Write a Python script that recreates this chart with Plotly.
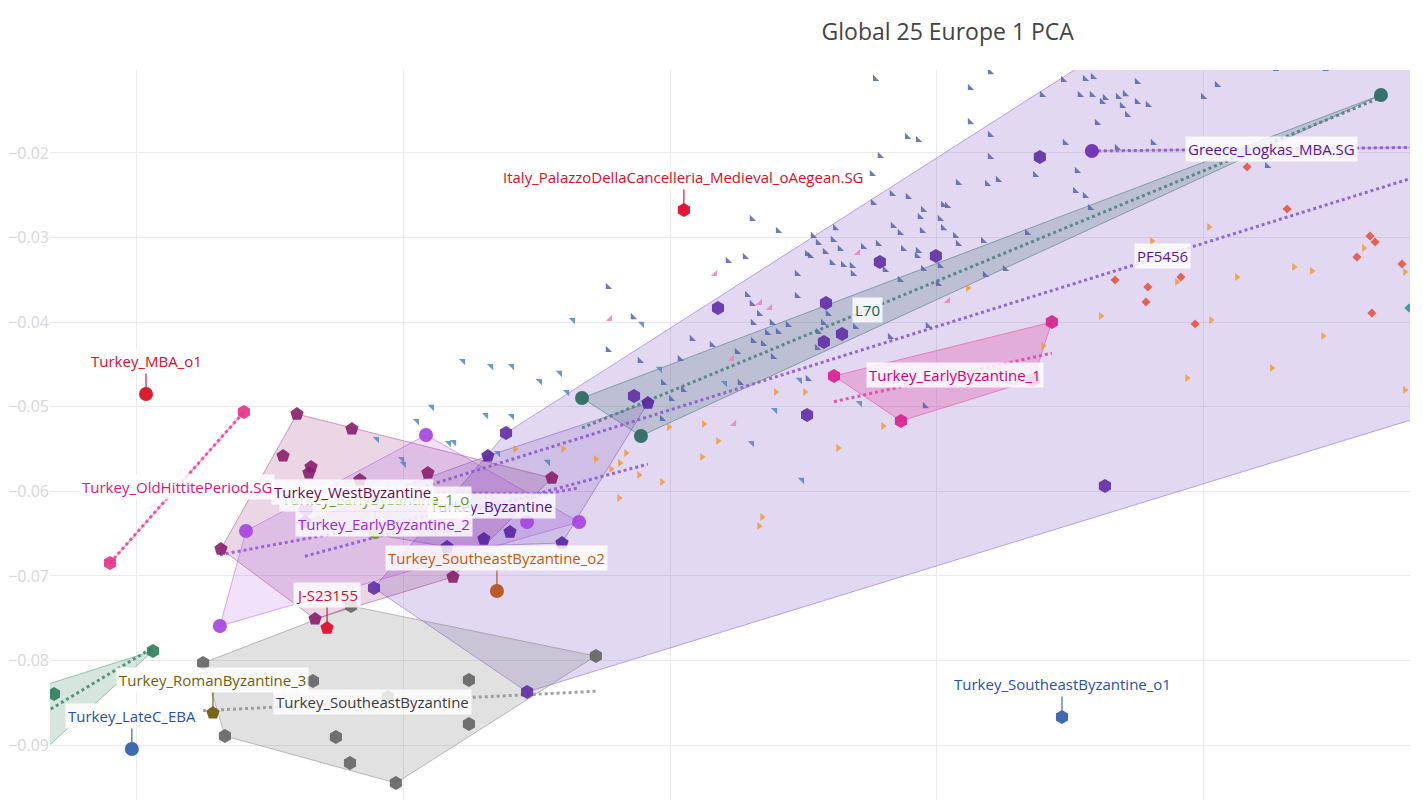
import numpy as np
import plotly.graph_objects as go

# ---------------- background reference samples ----------------
bg_blue_x = [0.12768,0.13199,0.13124,0.13124,0.12888,0.12929,0.12786,0.13199,0.12756,0.13079,
             0.13188,0.13229,0.12831,0.12891,0.1276,0.12948,0.13023,0.13038,0.12936,0.13011,
             0.12618,0.12835,0.12861,0.12944,0.13023,0.12404,0.12306,0.12535,0.13068,0.13079,
             0.13173,0.12554,0.1261,0.12779,0.12723,0.12513,0.12524,0.1258,0.12636,0.12873,
             0.12929,0.12925,0.12606,0.12648,0.12681,0.12685,0.12805,0.12948,0.13011,0.12861,
             0.13004,0.1318,0.12475,0.12216,0.1228,0.11766,0.12475,0.12288,0.12306,
             0.13473,0.13555,0.13585,0.1375,0.1405,0.13394,0.13536,0.13581,0.1363,0.13619,
             0.13679,0.13705,0.1375,0.13791,0.13694,0.13713,0.13998,0.136,0.1348,0.13675,
             0.1381,0.13199,0.13525,0.13368,0.13518,0.13555,0.13574,0.13338,0.13255,0.14238,
             0.14268,0.14455,
             0.12333,0.1231,0.12381,0.12441,0.12363,0.12404,0.12573,0.12591,0.1231,0.12348,
             0.1225,0.12385,0.1255,0.12554,0.12693,0.12824,0.12966,0.12081,0.12156,0.12036,
             0.11886,0.11766,0.11973,0.12003,0.12048,0.12261,0.12516,0.12955,0.11969,0.1186]
bg_blue_y = [-0.01125,-0.01043,-0.01232,-0.01634,-0.01811,-0.01846,-0.02035,-0.02047,-0.02248,-0.02355,
             -0.02366,-0.02319,-0.02485,-0.0252,-0.02591,-0.02674,-0.02615,-0.02626,-0.02756,-0.0278,
             -0.02887,-0.02863,-0.02946,-0.02922,-0.02887,-0.02922,-0.0278,-0.02981,-0.02981,-0.03076,
             -0.0304,-0.03064,-0.03028,-0.03076,-0.03111,-0.03194,-0.03217,-0.0317,-0.03135,-0.03135,
             -0.03158,-0.03217,-0.033,-0.03324,-0.03336,-0.0343,-0.03383,-0.03371,-0.03336,-0.03501,
             -0.03548,-0.03442,-0.0343,-0.03277,-0.03229,-0.03584,-0.0369,-0.03678,-0.03785,
             -0.01137,-0.01125,-0.01102,-0.01161,-0.01196,-0.01314,-0.01314,-0.01314,-0.0135,-0.01397,
             -0.01338,-0.01303,-0.01397,-0.01433,-0.01444,-0.01551,-0.01338,-0.01645,-0.01882,-0.01941,
             -0.01882,-0.01787,-0.02213,-0.0226,-0.02449,-0.02508,-0.0265,-0.02946,-0.03371,-0.02154,
             -0.01007,-0.01007,
             -0.03903,-0.04009,-0.04009,-0.04033,-0.04128,-0.04116,-0.04009,-0.03903,-0.04222,-0.04258,
             -0.04352,-0.04411,-0.04305,-0.04116,-0.04057,-0.04175,-0.04045,-0.04199,-0.04269,-0.04435,
             -0.04459,-0.04329,-0.04719,-0.04908,-0.04801,-0.04719,-0.04671,-0.04991,-0.05144,-0.03939]

bg_lightblue_x = [0.11635,0.11894,0.11961,0.12205,0.12486,0.12393,0.12306,0.12494,0.12711,0.11613,
                  0.11586,0.11106,0.1105,0.11309,0.11406,0.109,0.1117,0.11189,0.10994,0.11001,
                  0.11354,0.11541,0.11223,0.11328,0.11406,0.11511]
bg_lightblue_y = [-0.03974,-0.04021,-0.04553,-0.04719,-0.04683,-0.05038,-0.05428,-0.05865,-0.04955,-0.04825,
                  -0.046,-0.05002,-0.05168,-0.05097,-0.05109,-0.05381,-0.05428,-0.05416,-0.05617,-0.05676,
                  -0.05546,-0.05652,-0.04459,-0.04518,-0.04518,-0.04695]

bg_pink_x = [0.11774,0.12168,0.12336,0.12374,0.12704,0.13041,0.12231,0.12239]
bg_pink_y = [-0.03962,-0.0343,-0.03773,-0.03832,-0.03182,-0.03749,-0.04435,-0.05203]

bg_orange_x = [0.11418,0.11598,0.11721,0.11834,0.11811,0.11778,0.11883,0.11969,0.11808,0.12126,
               0.12179,0.12119,0.11995,0.12396,0.12505,0.12629,0.12798,0.12344,0.12333,0.13116,
               0.13398,0.13615,0.13938,0.14028,0.13806,0.139,0.1402,0.14125,0.14256,0.14339,
               0.14406,0.14448,0.14601,0.14755,0.14755]
bg_orange_y = [-0.05499,-0.05499,-0.05617,-0.05546,-0.05664,-0.05735,-0.05806,-0.05889,-0.06078,-0.05203,
               -0.05404,-0.05593,-0.05239,-0.04825,-0.04825,-0.05487,-0.05227,-0.06303,-0.06409,-0.03596,
               -0.04281,-0.03927,-0.0466,-0.03974,-0.0304,-0.03525,-0.02875,-0.03466,-0.04541,-0.03348,
               -0.03395,-0.04163,-0.03123,-0.03407,-0.04801]

bg_red_x = [0.14163,0.14313,0.14643,0.14575,0.14744,0.13668,0.13791,0.13915,0.13784,0.14631,0.13968,0.14624]
bg_red_y = [-0.02165,-0.02662,-0.03052,-0.03229,-0.03312,-0.03501,-0.03584,-0.03466,-0.03761,-0.03891,-0.04021,-0.02981]

bg_teal_x = [0.1477]
bg_teal_y = [-0.03832]

# ---------------- highlighted populations ----------------
pf5456_x = [0.13386,0.12786,0.12996,0.12179,0.12584,0.12576,0.12644,0.12513,0.11864,0.1363,
            0.11463,0.11384,0.10889,0.14361,0.15861,0.15486,0.15674,0.15861]
pf5456_y = [-0.02047,-0.03288,-0.03217,-0.03832,-0.03773,-0.04234,-0.04139,-0.05097,-0.04872,-0.05936,
            -0.08371,-0.0531,-0.07142,0.00683,-0.04104,-0.01574,-0.01385,-0.01208]

byz_x = [0.11916,0.11594,0.11399,0.11301,0.11163,0.11316,0.1063]
byz_y = [-0.04955,-0.0661,-0.0648,-0.06563,-0.06657,-0.05581,-0.06362]

westbyz_x = [0.106,0.10806,0.10548,0.10653,0.10645,0.10836,0.11091,0.11556,0.10315,0.10668,0.11185]
westbyz_y = [-0.05085,-0.05262,-0.05581,-0.05711,-0.05782,-0.05865,-0.05782,-0.05842,-0.06681,-0.07508,-0.07012]

earlybyz2_x = [0.10409,0.11084,0.10311,0.11658,0.11463,0.10634]
earlybyz2_y = [-0.06468,-0.05333,-0.07591,-0.06362,-0.06362,-0.06208]

l70_x = [0.11669,0.1189,0.14665]
l70_y = [-0.04896,-0.05345,-0.01314]

earlybyz1_x = [0.12614,0.13431,0.12865,0.1336]
earlybyz1_y = [-0.04636,-0.03998,-0.05168,-0.04683]

hittite_x = [0.09899,0.10401]
hittite_y = [-0.06846,-0.05061]

logkas_x = [0.13581,0.14931]
logkas_y = [-0.01976,-0.01929]

sebyz_x = [0.10248,0.1066,0.1033,0.10746,0.10799,0.10971,0.11245,0.11245,0.11721,0.10941,0.10803]
sebyz_y = [-0.08028,-0.08241,-0.08891,-0.08903,-0.0921,-0.09447,-0.08229,-0.08749,-0.07946,-0.0843,-0.07355]

green_x = [0.09561,0.09689,0.1006,0.09561]
green_y = [-0.08383,-0.08395,-0.07886,-0.09317]

# single samples
single_names = ["Italy_PalazzoDellaCancelleria_Medieval_oAegean.SG", "Turkey_MBA_o1", "J-S23155",
                "Turkey_SoutheastByzantine_o2", "Turkey_RomanByzantine_3", "Turkey_LateC_EBA",
                "Turkey_SoutheastByzantine_o1", "Turkey_EarlyByzantine_1_o"]
single_x = [0.12051, 0.10034, 0.10713, 0.1135, 0.10285, 0.09981, 0.13469, 0.10893]
single_y = [-0.02674, -0.04849, -0.07615, -0.07177, -0.08619, -0.09045, -0.08667, -0.0648]

y_ticks = [-0.02, -0.03, -0.04, -0.05, -0.06, -0.07, -0.08, -0.09]
y_tick_text = ["\u22120.02", "\u22120.03", "\u22120.04", "\u22120.05",
               "\u22120.06", "\u22120.07", "\u22120.08", "\u22120.09"]
x_ticks = [0.10, 0.11, 0.12, 0.13, 0.14]

# ---------------- styles ----------------
FONT = "Open Sans, Verdana, Arial, sans-serif"
LABEL_SIZE = 15

groups = [
    dict(name="PF5456", x=pf5456_x, y=pf5456_y, sym="hexagon", col="rgba(95,45,165,0.9)",
         fill="rgba(140,100,200,0.25)", line="rgba(140,100,200,0.55)", trend="rgba(140,90,205,0.9)",
         lab="rgb(85,25,155)", label_at=(0.13844, -0.03218)),
    dict(name="Turkey_SoutheastByzantine", x=sebyz_x, y=sebyz_y, sym="hexagon", col="rgba(100,100,100,0.9)",
         fill="rgba(130,130,130,0.24)", line="rgba(130,130,130,0.5)", trend="rgba(150,150,150,0.9)",
         lab="rgb(60,60,60)"),
    dict(name="Turkey_WestByzantine", x=westbyz_x, y=westbyz_y, sym="pentagon", col="rgba(135,30,105,0.9)",
         fill="rgba(140,30,110,0.18)", line="rgba(140,30,110,0.4)", trend="rgba(150,90,200,0.85)",
         lab="rgb(110,10,80)"),
    dict(name="Turkey_EarlyByzantine_2", x=earlybyz2_x, y=earlybyz2_y, sym="circle", col="rgba(165,65,225,0.9)",
         fill="rgba(170,70,230,0.16)", line="rgba(170,70,230,0.45)", trend="rgba(150,80,210,0.85)",
         lab="rgb(150,40,220)"),
    dict(name="Turkey_Byzantine", x=byz_x, y=byz_y, sym="pentagon", col="rgba(85,35,160,0.9)",
         fill="rgba(100,50,170,0.15)", line="rgba(100,50,170,0.4)", trend="rgba(140,90,205,0.9)",
         lab="rgb(75,20,145)"),
    dict(name="L70", x=l70_x, y=l70_y, sym="circle", col="rgba(45,110,100,0.95)",
         fill="rgba(60,110,110,0.22)", line="rgba(60,110,110,0.5)", trend="rgba(80,130,125,0.9)",
         lab="rgb(20,100,70)"),
    dict(name="Turkey_EarlyByzantine_1", x=earlybyz1_x, y=earlybyz1_y, sym="hexagon", col="rgba(215,30,140,0.9)",
         fill="rgba(230,60,160,0.28)", line="rgba(230,60,160,0.5)", trend="rgba(230,70,160,0.9)",
         lab="rgb(210,0,120)"),
    dict(name="Greek_green", x=green_x, y=green_y, sym="hexagon", col="rgba(45,125,90,0.9)",
         fill="rgba(50,130,90,0.2)", line="rgba(50,130,90,0.45)", trend="rgba(70,140,110,0.9)",
         lab=None),
    dict(name="Turkey_OldHittitePeriod.SG", x=hittite_x, y=hittite_y, sym="hexagon", col="rgba(232,45,135,0.9)",
         fill=None, line="rgba(240,120,180,0.6)", trend="rgba(235,70,150,0.9)",
         lab="rgb(225,20,120)"),
    dict(name="Greece_Logkas_MBA.SG", x=logkas_x, y=logkas_y, sym="circle", col="rgba(110,50,180,0.95)",
         fill=None, line="rgba(140,90,205,0.4)", trend="rgba(140,90,205,0.9)",
         lab="rgb(90,20,160)"),
]

single_style = {
    "Italy_PalazzoDellaCancelleria_Medieval_oAegean.SG": ("hexagon", "rgb(225,25,55)", "rgb(215,15,40)"),
    "Turkey_MBA_o1": ("circle", "rgb(220,30,50)", "rgb(215,15,40)"),
    "J-S23155": ("pentagon", "rgb(225,25,55)", "rgb(215,15,40)"),
    "Turkey_SoutheastByzantine_o2": ("circle", "rgb(185,90,40)", "rgb(195,90,10)"),
    "Turkey_RomanByzantine_3": ("pentagon", "rgb(120,100,30)", "rgb(110,95,10)"),
    "Turkey_LateC_EBA": ("circle", "rgb(65,105,175)", "rgb(40,80,170)"),
    "Turkey_SoutheastByzantine_o1": ("hexagon", "rgb(65,105,175)", "rgb(40,80,170)"),
    "Turkey_EarlyByzantine_1_o": ("circle", "rgb(120,150,60)", "rgb(100,150,30)"),
}


def convex_hull(xs, ys):
    pts = sorted(set(zip(xs, ys)))
    if len(pts) <= 2:
        return pts
    def cross(o, a, b):
        return (a[0] - o[0]) * (b[1] - o[1]) - (a[1] - o[1]) * (b[0] - o[0])
    lower, upper = [], []
    for p in pts:
        while len(lower) >= 2 and cross(lower[-2], lower[-1], p) <= 0:
            lower.pop()
        lower.append(p)
    for p in reversed(pts):
        while len(upper) >= 2 and cross(upper[-2], upper[-1], p) <= 0:
            upper.pop()
        upper.append(p)
    return lower[:-1] + upper[:-1]


fig = go.Figure()

# hulls
for g in groups:
    h = convex_hull(g["x"], g["y"])
    hx = [p[0] for p in h] + [h[0][0]]
    hy = [p[1] for p in h] + [h[0][1]]
    if g["fill"] is not None:
        fig.add_trace(go.Scatter(x=hx, y=hy, mode="lines", fill="toself", fillcolor=g["fill"],
                                 line=dict(color=g["line"], width=1), hoverinfo="skip", showlegend=False))
    else:
        fig.add_trace(go.Scatter(x=hx, y=hy, mode="lines",
                                 line=dict(color=g["line"], width=1.5), hoverinfo="skip", showlegend=False))

# background samples
bg_sets = [
    (bg_blue_x, bg_blue_y, "triangle-sw", "rgba(85,100,170,0.85)"),
    (bg_lightblue_x, bg_lightblue_y, "triangle-ne", "rgba(80,135,195,0.85)"),
    (bg_pink_x, bg_pink_y, "triangle-se", "rgba(235,130,190,0.85)"),
    (bg_orange_x, bg_orange_y, "triangle-right", "rgba(240,155,55,0.85)"),
    (bg_red_x, bg_red_y, "diamond", "rgba(228,85,65,0.9)"),
    (bg_teal_x, bg_teal_y, "diamond", "rgba(40,160,140,0.9)"),
]
for bx, by, sym, col in bg_sets:
    fig.add_trace(go.Scatter(x=bx, y=by, mode="markers",
                             marker=dict(symbol=sym, size=7, color=col, line=dict(width=0)),
                             showlegend=False, hoverinfo="x+y"))

# trend lines (least squares fit per group)
for g in groups:
    xs = np.array(g["x"]); ys = np.array(g["y"])
    k, b = np.polyfit(xs, ys, 1)
    lx = np.array([xs.min(), xs.max()])
    fig.add_trace(go.Scatter(x=lx, y=k * lx + b, mode="lines",
                             line=dict(color=g["trend"], width=3, dash="dot"),
                             hoverinfo="skip", showlegend=False))

# group markers
for g in groups:
    fig.add_trace(go.Scatter(x=g["x"], y=g["y"], mode="markers", name=g["name"],
                             marker=dict(symbol=g["sym"], size=14, color=g["col"], line=dict(width=0)),
                             showlegend=False))

# single samples
for n, sx, sy in zip(single_names, single_x, single_y):
    sym, col, _ = single_style[n]
    fig.add_trace(go.Scatter(x=[sx], y=[sy], mode="markers", name=n,
                             marker=dict(symbol=sym, size=14, color=col, line=dict(width=0)),
                             showlegend=False))

annotations = []
label_box = dict(bgcolor="rgba(255,255,255,0.82)", borderpad=2)


def group_label(name):
    g = [gg for gg in groups if gg["name"] == name][0]
    if "label_at" in g:
        lx, ly = g["label_at"]
    else:
        lx, ly = float(np.mean(g["x"])), float(np.mean(g["y"]))
    return dict(x=lx, y=ly, text=name, showarrow=False,
                font=dict(family=FONT, size=LABEL_SIZE, color=g["lab"]), **label_box)


def single_label(name):
    i = single_names.index(name)
    _, col, lab = single_style[name]
    return dict(x=single_x[i], y=single_y[i], text=name, showarrow=True, arrowhead=0, arrowwidth=1.2,
                arrowcolor=col, ax=0, ay=-33, standoff=0,
                font=dict(family=FONT, size=LABEL_SIZE, color=lab), **label_box)

order = [
    ("g", "PF5456"), ("g", "Greece_Logkas_MBA.SG"), ("g", "L70"), ("g", "Turkey_EarlyByzantine_1"),
    ("g", "Turkey_OldHittitePeriod.SG"), ("g", "Turkey_SoutheastByzantine"),
    ("g", "Turkey_Byzantine"), ("s", "Turkey_EarlyByzantine_1_o"), ("g", "Turkey_WestByzantine"),
    ("g", "Turkey_EarlyByzantine_2"),
    ("s", "Italy_PalazzoDellaCancelleria_Medieval_oAegean.SG"), ("s", "Turkey_MBA_o1"), ("s", "J-S23155"),
    ("s", "Turkey_SoutheastByzantine_o2"), ("s", "Turkey_RomanByzantine_3"), ("s", "Turkey_LateC_EBA"),
    ("s", "Turkey_SoutheastByzantine_o1"),
]
for kind, n in order:
    annotations.append(group_label(n) if kind == "g" else single_label(n))

fig.update_layout(
    width=1423, height=800,
    margin=dict(l=50, r=13, t=70, b=0),
    paper_bgcolor="white", plot_bgcolor="white",
    font=dict(family=FONT, size=15, color="rgb(68,68,68)"),
    title=dict(text="Global 25 Europe 1 PCA", x=0.666, xanchor="center", y=0.96, yanchor="middle",
               font=dict(family=FONT, size=23, color="rgb(68,68,68)")),
    showlegend=False,
    annotations=annotations,
    hovermode="closest",
)
fig.update_xaxes(range=[0.09674, 0.14774], tickvals=x_ticks, showticklabels=False,
                 showgrid=True, gridcolor="rgb(235,235,235)", zeroline=False, showline=False)
fig.update_yaxes(range=[-0.09648, -0.01019], tickvals=y_ticks, ticktext=y_tick_text,
                 tickfont=dict(family=FONT, size=16, color="rgb(215,215,215)"),
                 showgrid=True, gridcolor="rgb(235,235,235)", zeroline=False, showline=False)

fig.write_html("out.html")
